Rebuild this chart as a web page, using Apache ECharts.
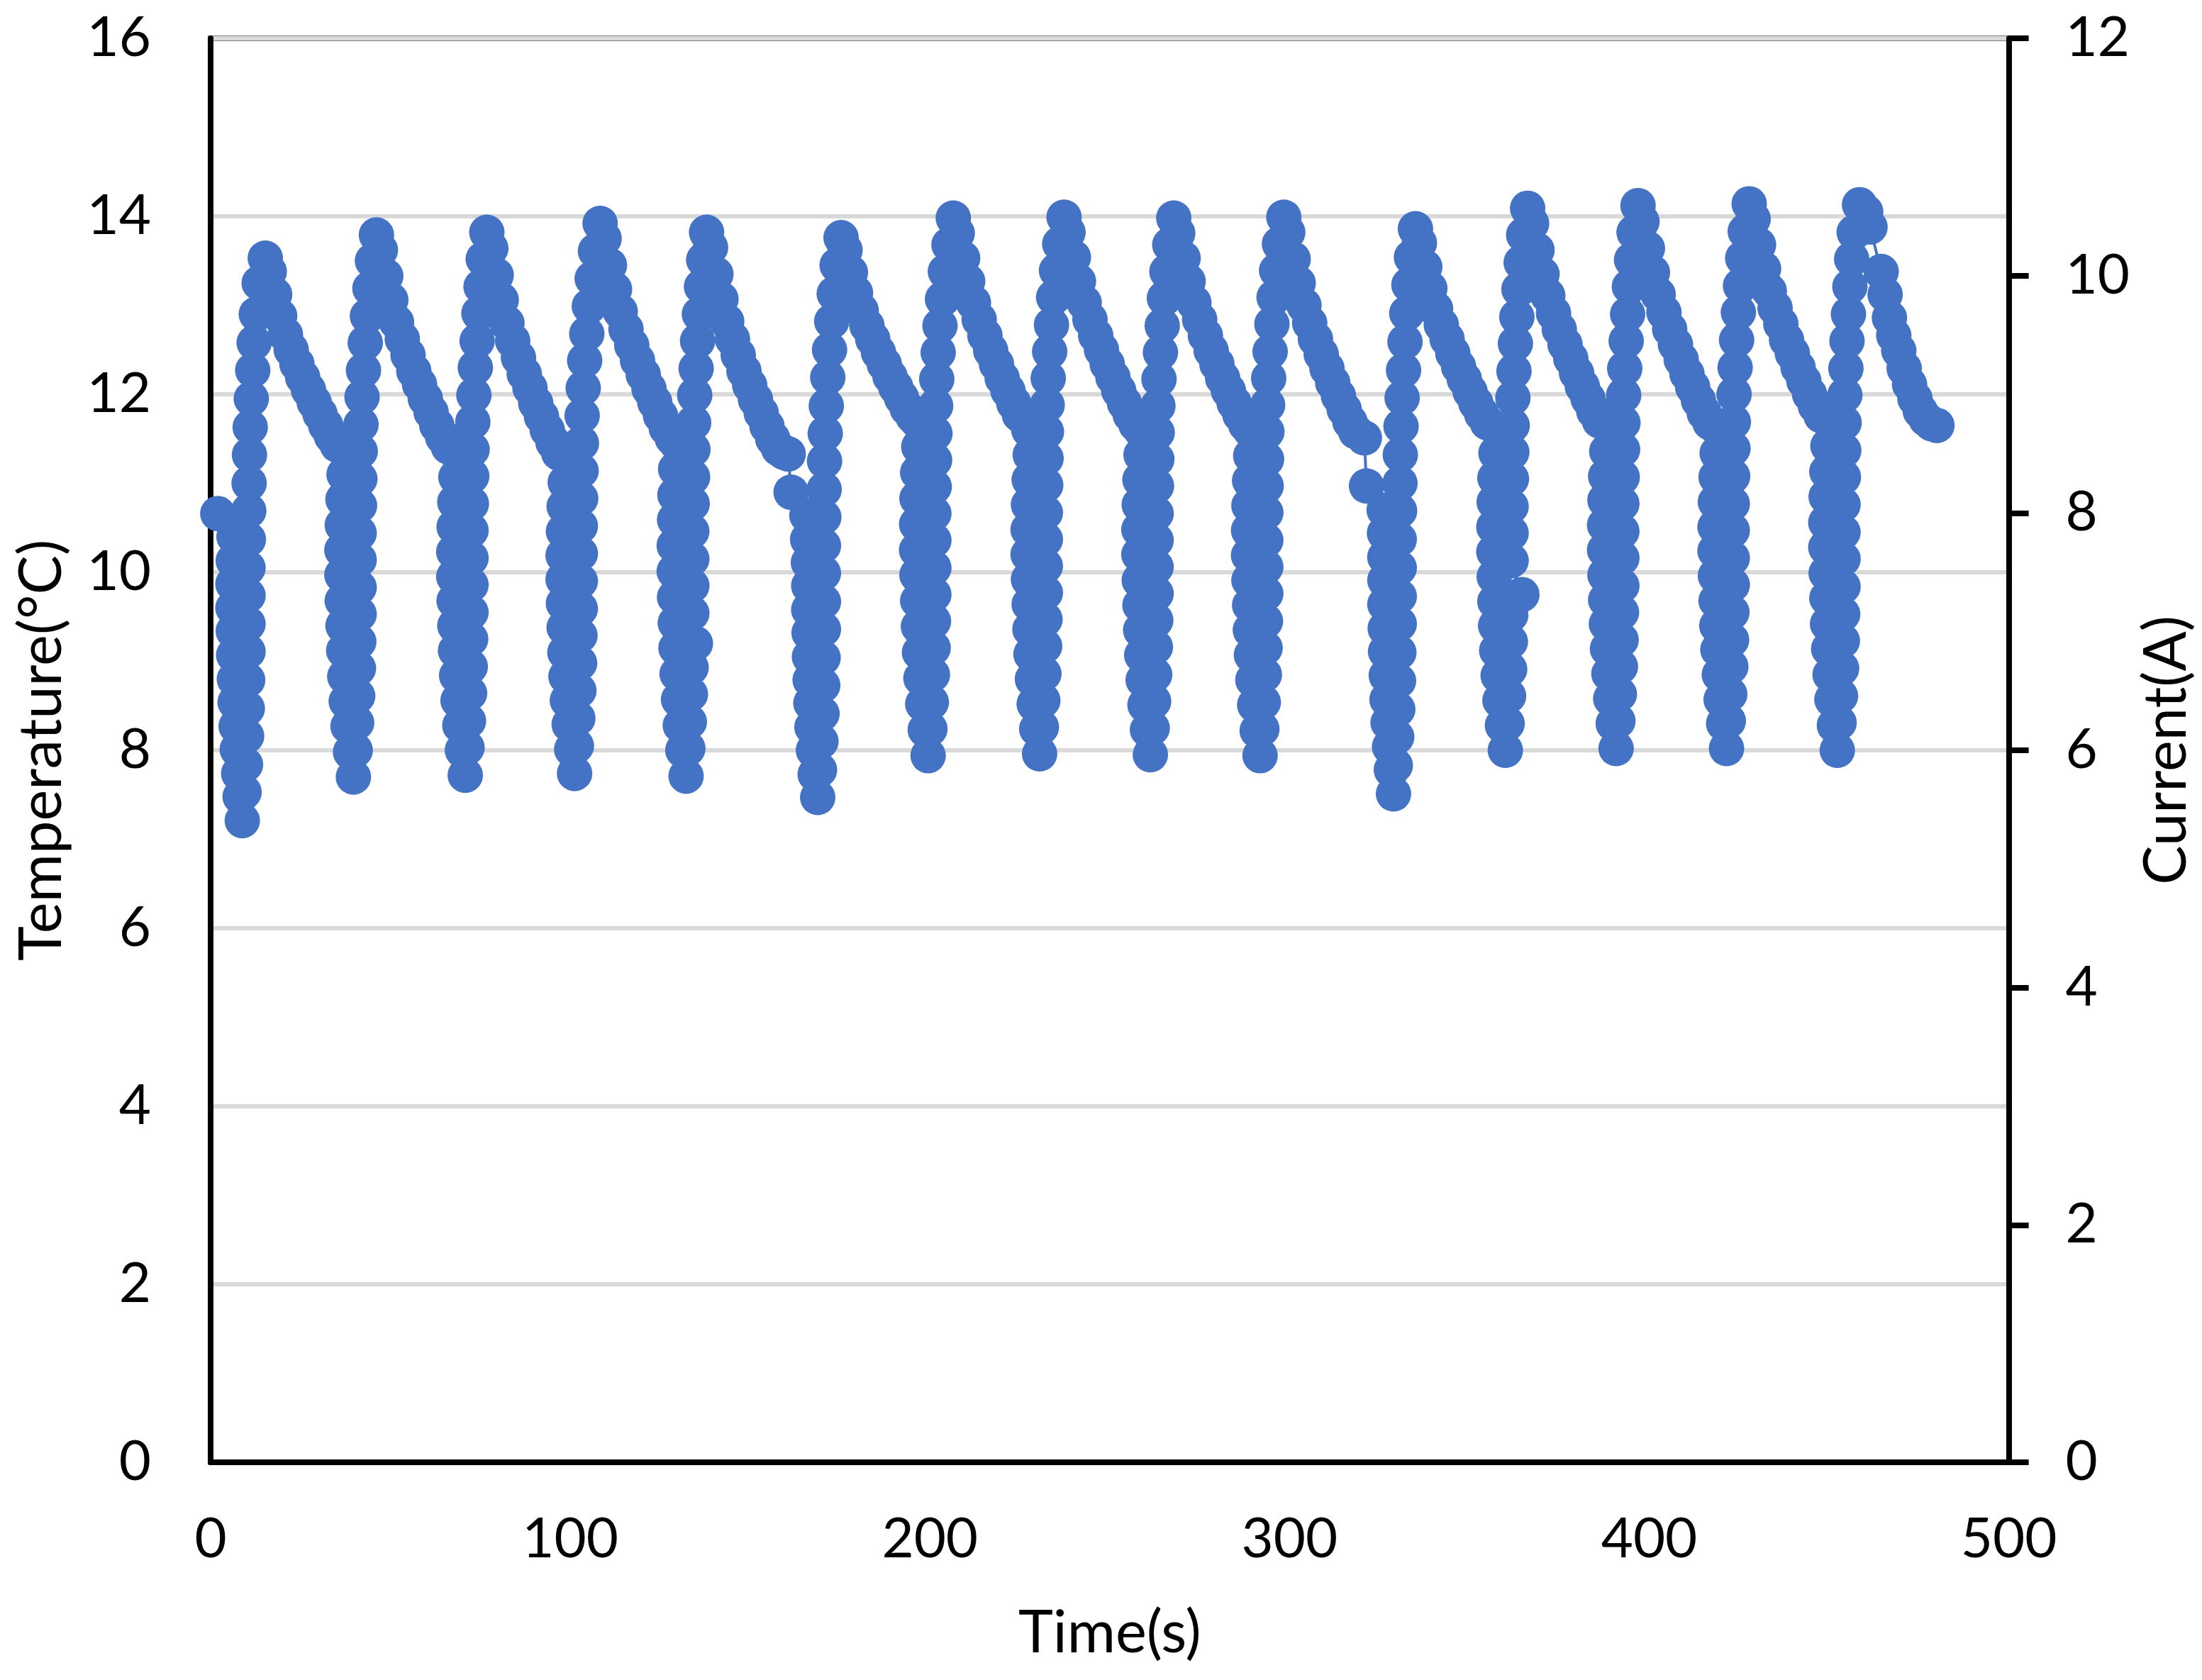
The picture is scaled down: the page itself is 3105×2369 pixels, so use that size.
<!DOCTYPE html>
<html>
<head>
<meta charset="utf-8">
<script src="https://cdn.jsdelivr.net/npm/echarts@6/dist/echarts.min.js"></script>
<style>
html,body{margin:0;padding:0;background:#ffffff;}
#chart{width:3105px;height:2369px;}
</style>
</head>
<body>
<div id="chart"></div>
<script>
// ---- Axis ticks ----
const timeTicks = [0, 100, 200, 300, 400, 500];
const temperatureTicks = [0, 2, 4, 6, 8, 10, 12, 14, 16];
const currentTicks = [0, 2, 4, 6, 8, 10, 12];

// ---- Data: time (s) and temperature (°C), cycle by cycle ----
const c01Time = [2.0, 6.5,6.3,6.2,6.2,6.3,6.4,6.6,6.8,7.1,7.4,7.8,8.2, 8.8, 9.3,9.7,10.0,10.2,10.3,10.4,10.4,10.4,10.4,10.5,10.6,10.7,10.8,11.0,11.3,11.7,12.1,12.7,13.5,15.2, 16.3,17.8,19.2,20.8,22.4,24.0,25.6,27.2,28.8,30.4,32.0,33.6,35.2,37.5];
const c01Temp = [10.66, 10.40,10.13,9.87,9.60,9.34,9.07,8.80,8.54,8.27,8.01,7.74,7.48, 7.21, 7.53,7.84,8.16,8.47,8.79,9.11,9.42,9.74,10.05,10.37,10.69,11.00,11.32,11.63,11.95,12.27,12.58,12.90,13.25,13.53, 13.38,13.12,12.88,12.67,12.50,12.34,12.19,12.05,11.91,11.78,11.65,11.53,11.43,11.38];

const c02Time = [37.1,36.8,36.6,36.5,36.5,36.6,36.8,37.0,37.3,37.7,38.2,38.9, 39.7, 40.2,40.6,40.9,41.1,41.2,41.3,41.3,41.3,41.3,41.4,41.5,41.6,41.8,42.1,42.5,43.0,43.6,44.3,45.0,46.1, 47.2,48.7,50.1,51.7,53.3,54.9,56.5,58.1,59.7,61.3,62.9,64.5,66.1,68.2];
const c02Temp = [11.10,10.82,10.53,10.25,9.97,9.68,9.40,9.12,8.83,8.55,8.27,7.98, 7.70, 8.00,8.31,8.61,8.92,9.22,9.53,9.83,10.14,10.44,10.75,11.05,11.36,11.66,11.97,12.27,12.58,12.88,13.19,13.50,13.79, 13.62,13.33,13.06,12.81,12.62,12.44,12.26,12.11,11.95,11.80,11.65,11.52,11.41,11.35];

const c03Time = [68.2,67.9,67.7,67.6,67.6,67.7,67.9,68.1,68.4,68.8,69.3,70.0, 70.8, 71.3,71.7,72.0,72.2,72.3,72.4,72.4,72.4,72.4,72.5,72.6,72.7,72.9,73.2,73.6,74.1,74.6,75.2,75.8,76.8, 77.9,79.4,80.8,82.4,84.0,85.6,87.2,88.8,90.4,92.0,93.6,95.2,96.8,99.2];
const c03Temp = [11.07,10.79,10.51,10.23,9.95,9.68,9.40,9.12,8.84,8.56,8.28,8.00, 7.72, 8.03,8.33,8.64,8.94,9.25,9.55,9.86,10.16,10.47,10.77,11.08,11.38,11.69,11.99,12.30,12.60,12.91,13.21,13.52,13.82, 13.64,13.34,13.06,12.80,12.60,12.41,12.23,12.07,11.90,11.75,11.60,11.46,11.34,11.28];

const c04Time = [98.6,98.3,98.1,98.0,98.0,98.1,98.3,98.5,98.8,99.2,99.7,100.4, 101.2, 101.7,102.1,102.4,102.6,102.7,102.8,102.8,102.8,102.8,102.9,103.0,103.1,103.3,103.6,104.0,104.6,105.3,106.1,107.0,108.3, 109.4,110.9,112.3,113.9,115.5,117.1,118.7,120.3,121.9,123.5,125.1,126.7,128.3,129.6];
const c04Temp = [11.01,10.74,10.46,10.19,9.92,9.65,9.38,9.10,8.83,8.56,8.29,8.01, 7.74, 8.05,8.36,8.67,8.98,9.29,9.59,9.90,10.21,10.52,10.83,11.14,11.45,11.76,12.07,12.38,12.68,12.99,13.30,13.61,13.92, 13.75,13.45,13.18,12.93,12.73,12.55,12.38,12.22,12.06,11.91,11.76,11.62,11.51,11.45];

const c05Time = [129.3,129.1,129.0,128.9,128.9,129.0,129.2,129.4,129.7,130.1,130.6,131.3, 132.2, 132.7,133.1,133.4,133.6,134.8,133.8,133.8,133.8,133.8,133.9,134.0,134.1,134.3,134.6,135.0,135.4,135.9,136.5,137.1,137.9, 139.0,140.5,141.9,143.5,145.1,146.7,148.3,149.9,151.5,153.1,154.7,156.3,157.9,159.3,160.6, 161.4];
const c05Temp = [11.16,10.87,10.59,10.30,10.01,9.72,9.43,9.15,8.86,8.57,8.28,8.00, 7.71, 8.02,8.32,8.63,8.93,9.20,9.54,9.85,10.15,10.46,10.77,11.07,11.38,11.68,11.99,12.29,12.60,12.90,13.21,13.51,13.82, 13.65,13.35,13.07,12.82,12.62,12.44,12.26,12.10,11.94,11.79,11.64,11.50,11.39,11.35,11.33, 10.90];

const c06Time = [165.8,166.0,166.2,166.3,166.3,166.4,166.5,166.7,166.9,167.2,167.6,168.1, 168.8, 169.3,169.7,170.0,170.2,170.3,170.4,170.4,170.4,170.4,170.5,170.6,170.7,170.9,171.2,171.6,172.1,172.7,173.4,174.2,175.3, 176.4,177.9,179.3,180.9,182.5,184.1,185.7,187.3,188.9,190.5,192.1,193.7,195.3,196.5];
const c06Temp = [10.64,10.37,10.11,9.85,9.58,9.32,9.05,8.79,8.53,8.26,8.00,7.73, 7.47, 7.78,8.10,8.41,8.73,9.04,9.36,9.67,9.99,10.30,10.62,10.93,11.25,11.56,11.87,12.19,12.50,12.82,13.13,13.45,13.76, 13.62,13.37,13.14,12.94,12.77,12.62,12.47,12.34,12.20,12.08,11.96,11.84,11.75,11.70];

const c07Time = [196.9,196.6,196.4,196.3,196.3,196.4,196.6,196.8,197.1,197.5,198.0,198.7, 199.5, 200.0,200.4,200.7,200.9,201.0,201.1,201.1,201.1,201.1,201.2,201.3,201.4,201.6,201.9,202.3,202.8,203.5,204.3,205.3,206.5, 207.6,209.1,210.5,212.1,213.7,215.3,216.9,218.5,220.1,221.7,223.3,224.9,227.5];
const c07Temp = [11.41,11.12,10.83,10.54,10.25,9.97,9.68,9.39,9.10,8.81,8.52,8.23, 7.94, 8.24,8.54,8.85,9.15,9.45,9.75,10.05,10.36,10.66,10.96,11.26,11.56,11.87,12.17,12.47,12.77,13.07,13.38,13.68,13.98, 13.81,13.53,13.27,13.03,12.84,12.66,12.49,12.34,12.18,12.04,11.90,11.77,11.60];

const c08Time = [227.9,227.6,227.4,227.3,227.3,227.4,227.6,227.8,228.1,228.5,229.0,229.7, 230.5, 231.0,231.4,231.7,231.9,232.0,232.1,232.1,232.1,232.1,232.2,232.3,232.4,232.6,232.9,233.3,233.8,234.4,235.2,236.1,237.3, 238.4,239.9,241.3,242.9,244.5,246.1,247.7,249.3,250.9,252.5,254.1,255.7,257.3,258.6];
const c08Temp = [11.32,11.04,10.76,10.48,10.20,9.92,9.64,9.36,9.08,8.80,8.52,8.24, 7.96, 8.26,8.56,8.86,9.17,9.47,9.77,10.07,10.37,10.67,10.98,11.28,11.58,11.88,12.18,12.48,12.78,13.09,13.39,13.69,13.99, 13.82,13.54,13.27,13.03,12.84,12.66,12.50,12.34,12.19,12.04,11.90,11.77,11.66,11.60];

const c09Time = [258.7,258.4,258.2,258.1,258.1,258.2,258.4,258.6,258.9,259.3,259.8,260.5, 261.3, 261.8,262.2,262.5,262.7,262.8,262.9,262.9,262.9,262.9,263.0,263.1,263.2,263.4,263.7,264.1,264.6,265.2,265.9,266.7,267.8, 268.9,270.4,271.8,273.4,275.0,276.6,278.2,279.8,281.4,283.0,284.6,286.2,287.8,289.0];
const c09Temp = [11.32,11.04,10.76,10.48,10.20,9.91,9.63,9.35,9.07,8.79,8.51,8.23, 7.95, 8.25,8.55,8.85,9.16,9.46,9.76,10.06,10.36,10.66,10.97,11.27,11.57,11.87,12.17,12.47,12.77,13.08,13.38,13.68,13.98, 13.81,13.53,13.27,13.03,12.84,12.66,12.49,12.34,12.18,12.04,11.90,11.77,11.66,11.60];

const c10Time = [289.2,288.9,288.7,288.6,288.6,288.7,288.9,289.1,289.4,289.8,290.3,291.0, 291.8, 292.3,292.7,293.0,293.2,293.3,293.4,293.4,293.4,293.4,293.5,293.6,293.7,293.9,294.2,294.6,295.1,295.7,296.4,297.2,298.4, 299.5,301.0,302.4,304.0,305.6,307.2,308.8,310.4,312.0,313.6,315.2,316.8,318.4,320.8, 321.4];
const c10Temp = [11.31,11.03,10.75,10.47,10.19,9.91,9.63,9.35,9.07,8.79,8.51,8.22, 7.94, 8.24,8.54,8.85,9.15,9.45,9.76,10.06,10.36,10.67,10.97,11.27,11.58,11.88,12.18,12.48,12.79,13.09,13.39,13.69,13.99, 13.82,13.52,13.25,13.00,12.80,12.62,12.45,12.29,12.13,11.98,11.83,11.69,11.58,11.51, 10.97];

const c11Time = [326.3,326.4,326.5,326.5,326.5,326.6,326.7,326.9,327.1,327.4,327.8,328.3, 328.9, 329.4,329.8,330.1,330.3,330.4,330.5,330.5,330.5,330.5,330.6,330.7,330.8,331.0,331.3,331.7,332.1,332.6,333.2,333.9,335.0, 336.1,337.6,339.0,340.6,342.2,343.8,345.4,347.0,348.6,350.2,351.8,353.4,355.0,357.5];
const c11Temp = [10.70,10.44,10.17,9.91,9.64,9.37,9.11,8.84,8.57,8.31,8.04,7.78, 7.51, 7.83,8.15,8.46,8.78,9.10,9.42,9.73,10.05,10.37,10.69,11.00,11.32,11.64,11.96,12.27,12.59,12.91,13.23,13.54,13.86, 13.70,13.43,13.19,12.96,12.78,12.62,12.46,12.31,12.17,12.03,11.90,11.78,11.68,11.62];

const c12Time = [357.4,357.1,356.9,356.8,356.8,356.9,357.1,357.3,357.6,358.0,358.5,359.2, 360.0, 360.5,360.9,361.2,361.4,361.5,364.6,361.6,361.6,361.6,361.7,361.8,361.9,362.1,362.4,362.8,363.2,363.8,364.4,365.1,366.2, 367.3,368.8,370.2,371.8,373.4,375.0,376.6,378.2,379.8,381.4,383.0,384.6,386.2,388.6];
const c12Temp = [11.34,11.06,10.79,10.51,10.23,9.95,9.67,9.40,9.12,8.84,8.56,8.28, 8.00, 8.30,8.61,8.91,9.22,9.52,9.75,10.13,10.44,10.74,11.05,11.35,11.65,11.96,12.26,12.57,12.87,13.18,13.48,13.79,14.09, 13.92,13.62,13.35,13.11,12.91,12.73,12.56,12.40,12.24,12.09,11.95,11.81,11.70,11.64];

const c13Time = [388.2,387.9,387.7,387.6,387.6,387.7,387.9,388.1,388.4,388.8,389.3,390.0, 390.8, 391.3,391.7,392.0,392.2,392.3,392.4,392.4,392.4,392.4,392.5,392.6,392.7,392.9,393.2,393.6,394.0,394.5,395.1,395.8,396.9, 398.0,399.5,400.9,402.5,404.1,405.7,407.3,408.9,410.5,412.1,413.7,415.3,416.9,418.4,419.8];
const c13Temp = [11.36,11.08,10.81,10.53,10.25,9.97,9.69,9.42,9.14,8.86,8.58,8.30, 8.02, 8.33,8.63,8.94,9.24,9.55,9.85,10.16,10.46,10.77,11.07,11.38,11.68,11.99,12.29,12.60,12.90,13.21,13.51,13.82,14.12, 13.94,13.64,13.37,13.12,12.92,12.73,12.56,12.39,12.23,12.08,11.93,11.79,11.68,11.64,11.62];

const c14Time = [418.9,418.6,418.4,418.3,418.3,418.4,418.6,418.8,419.1,419.5,420.0,420.7, 421.5, 422.0,422.4,422.7,422.9,423.0,423.1,423.1,423.1,423.1,423.2,423.3,423.4,423.6,423.9,424.3,424.8,425.4,426.0,426.7,427.8, 428.9,430.4,431.8,433.4,435.0,436.6,438.2,439.8,441.4,443.0,444.6,446.2,447.8,450.0];
const c14Temp = [11.34,11.07,10.79,10.51,10.24,9.96,9.68,9.40,9.13,8.85,8.57,8.30, 8.02, 8.33,8.63,8.94,9.24,9.55,9.86,10.16,10.47,10.77,11.08,11.39,11.69,12.00,12.30,12.61,12.92,13.22,13.53,13.83,14.14, 13.97,13.68,13.41,13.16,12.97,12.79,12.61,12.46,12.30,12.15,12.00,11.87,11.76,11.70];

const c15Time = [449.7,449.4,449.2,449.1,449.1,449.2,449.4,449.6,449.9,450.3,450.8,451.5, 452.3, 452.8,453.2,453.5,453.7,453.8,453.9,453.9,453.9,453.9,454.0,454.1,454.2,454.4,454.7,455.0,455.4,455.8,456.3,457.0,458.5, 460.2,461.4, 464.5,465.6,466.8,468.0,469.4,470.9,472.4,473.9,475.4,477.0,478.5,480.0];
const c15Temp = [11.42,11.13,10.85,10.56,10.28,9.99,9.71,9.42,9.14,8.85,8.57,8.28, 8.00, 8.31,8.61,8.92,9.23,9.53,9.84,10.15,10.45,10.76,11.07,11.37,11.68,11.99,12.29,12.60,12.90,13.21,13.52,13.82,14.13, 14.05,13.88, 13.38,13.12,12.86,12.66,12.49,12.29,12.11,11.95,11.81,11.72,11.67,11.65];

// ---- Build the series data from the arrays ----
const cycleTimes = [c01Time,c02Time,c03Time,c04Time,c05Time,c06Time,c07Time,c08Time,c09Time,c10Time,c11Time,c12Time,c13Time,c14Time,c15Time];
const cycleTemps = [c01Temp,c02Temp,c03Temp,c04Temp,c05Temp,c06Temp,c07Temp,c08Temp,c09Temp,c10Temp,c11Temp,c12Temp,c13Temp,c14Temp,c15Temp];
const seriesData = [];
cycleTimes.forEach(function (times, k) {
  const temps = cycleTemps[k];
  const n = Math.min(times.length, temps.length);
  if (times.length !== temps.length) console.warn('length mismatch in cycle', k + 1, times.length, temps.length);
  for (let i = 0; i < n; i++) seriesData.push([times[i], temps[i]]);
});

const FONT = 'Lato';
const labelStyle = { fontFamily: FONT, fontSize: 78, color: '#000000' };
const nameStyle = { fontFamily: FONT, fontSize: 83, color: '#000000' };
const axisLineStyle = { color: '#000000', width: 8 };

const chart = echarts.init(document.getElementById('chart'), null, { renderer: 'canvas' });
chart.setOption({
  animation: false,
  backgroundColor: '#ffffff',
  grid: {
    left: 297, top: 54, width: 2546, height: 2008,
    show: true, borderColor: '#000000', borderWidth: 7, backgroundColor: 'transparent',
    containLabel: false
  },
  xAxis: {
    type: 'value',
    min: timeTicks[0], max: timeTicks[timeTicks.length - 1], interval: timeTicks[1] - timeTicks[0],
    name: 'Time(s)', nameLocation: 'middle', nameGap: 200, nameTextStyle: nameStyle,
    axisLine: { show: true, onZero: false, lineStyle: axisLineStyle },
    axisTick: { show: false },
    axisLabel: Object.assign({ margin: 70 }, labelStyle),
    splitLine: { show: false }
  },
  yAxis: [
    {
      type: 'value', position: 'left',
      min: temperatureTicks[0], max: temperatureTicks[temperatureTicks.length - 1], interval: temperatureTicks[1] - temperatureTicks[0],
      name: 'Temperature(°C)', nameLocation: 'middle', nameRotate: 90, nameGap: 196, nameTextStyle: nameStyle,
      axisLine: { show: true, onZero: false, lineStyle: axisLineStyle },
      axisTick: { show: false },
      axisLabel: Object.assign({ margin: 84 }, labelStyle),
      splitLine: { show: true, lineStyle: { color: '#d9d9d9', width: 6 } }
    },
    {
      type: 'value', position: 'right',
      min: currentTicks[0], max: currentTicks[currentTicks.length - 1], interval: currentTicks[1] - currentTicks[0],
      name: 'Current(A)', nameLocation: 'middle', nameRotate: 90, nameGap: 168, nameTextStyle: nameStyle,
      axisLine: { show: true, onZero: false, lineStyle: axisLineStyle },
      axisTick: { show: true, inside: false, length: 28, lineStyle: { color: '#000000', width: 8 } },
      axisLabel: Object.assign({ margin: 80 }, labelStyle),
      splitLine: { show: false }
    }
  ],
  series: [{
    type: 'line',
    xAxisIndex: 0, yAxisIndex: 0,
    data: seriesData,
    symbol: 'circle', symbolSize: 50,
    showSymbol: true, showAllSymbol: true,
    itemStyle: { color: '#4472C4', borderWidth: 0 },
    lineStyle: { color: '#4472C4', width: 4 },
    clip: false,
    z: 3,
    emphasis: { disabled: true }
  }]
});
</script>
</body>
</html>
